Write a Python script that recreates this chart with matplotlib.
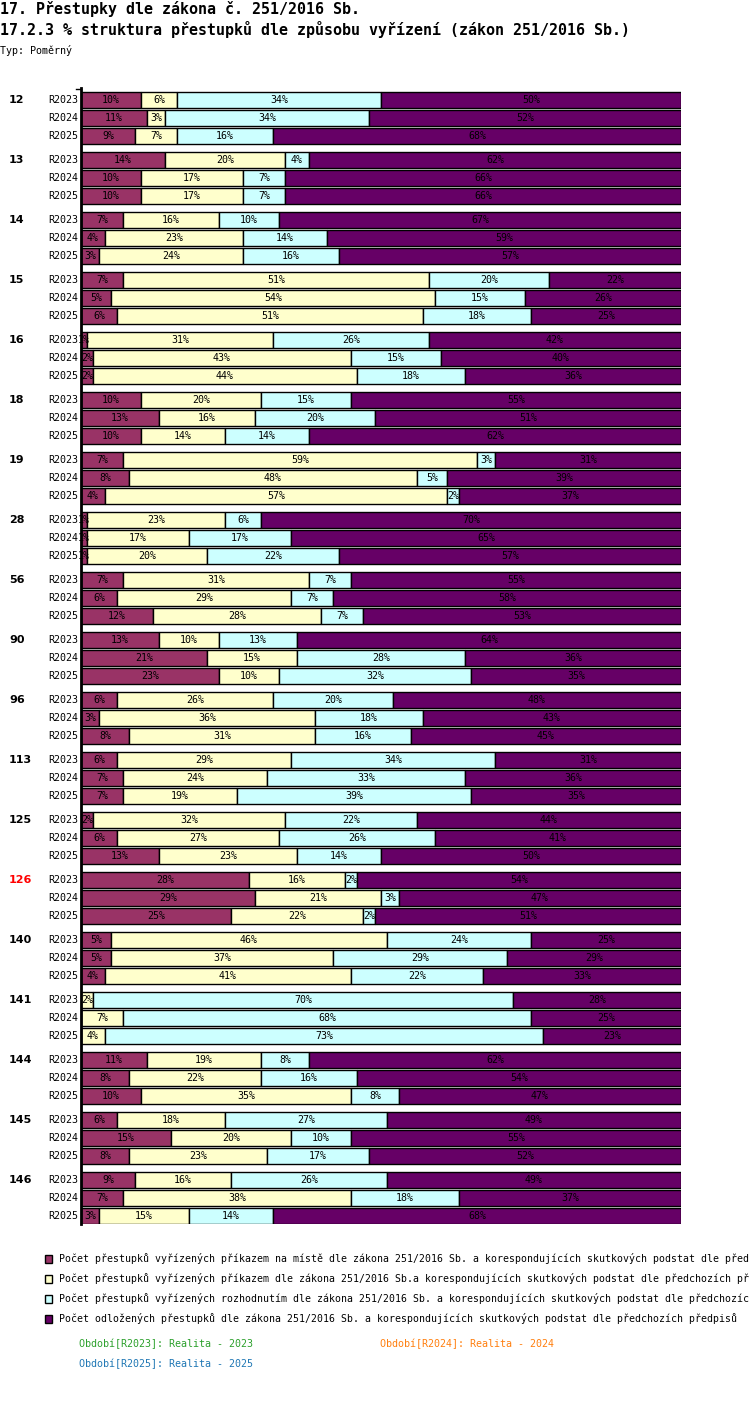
import matplotlib
matplotlib.use("Agg")
import matplotlib.pyplot as plt
from matplotlib.patches import Rectangle

plt.rcParams['font.family'] = ['DejaVu Sans Mono', 'DejaVu Sans']

# skupiny (řádky grafu) a období
skupiny = ['12', '13', '14', '15', '16', '18', '19', '28', '56', '90',
           '96', '113', '125', '126', '140', '141', '144', '145', '146']
obdobi = ['R2023', 'R2024', 'R2025']
zvyraznena = '126'

# hodnoty v % (po skupinách, R2023 / R2024 / R2025)
na_miste = [[10, 11, 9], [14, 10, 10], [7, 4, 3], [7, 5, 6], [1, 2, 2],
            [10, 13, 10], [7, 8, 4], [1, 1, 1], [7, 6, 12], [13, 21, 23],
            [6, 3, 8], [6, 7, 7], [2, 6, 13], [28, 29, 25], [5, 5, 4],
            [0, 0, 0], [11, 8, 10], [6, 15, 8], [9, 7, 3]]
prikazem = [[6, 3, 7], [20, 17, 17], [16, 23, 24], [51, 54, 51], [31, 43, 44],
            [20, 16, 14], [59, 48, 57], [23, 17, 20], [31, 29, 28], [10, 15, 10],
            [26, 36, 31], [29, 24, 19], [32, 27, 23], [16, 21, 22], [46, 37, 41],
            [2, 7, 4], [19, 22, 35], [18, 20, 23], [16, 38, 15]]
rozhodnutim = [[34, 34, 16], [4, 7, 7], [10, 14, 16], [20, 15, 18], [26, 15, 18],
               [15, 20, 14], [3, 5, 2], [6, 17, 22], [7, 7, 7], [13, 28, 32],
               [20, 18, 16], [34, 33, 39], [22, 26, 14], [2, 3, 2], [24, 29, 22],
               [70, 68, 73], [8, 16, 8], [27, 10, 17], [26, 18, 14]]
odlozene = [[50, 52, 68], [62, 66, 66], [67, 59, 57], [22, 26, 25], [42, 40, 36],
            [55, 51, 62], [31, 39, 37], [70, 65, 57], [55, 58, 53], [64, 36, 35],
            [48, 43, 45], [31, 36, 35], [44, 41, 50], [54, 47, 51], [25, 29, 33],
            [28, 25, 23], [62, 54, 47], [49, 55, 52], [49, 37, 68]]

serie = [na_miste, prikazem, rozhodnutim, odlozene]
barvy = ['#993366', '#ffffcc', '#ccffff', '#660066']
# texty legendy tak, jak jsou vidět (v originále useknuté okrajem)
legenda = [
    'Počet přestupků vyřízených příkazem na místě dle zákona 251/2016 Sb. a korespondujících skutkových podstat dle před',
    'Počet přestupků vyřízených příkazem dle zákona 251/2016 Sb.a korespondujících skutkových podstat dle předchozích př',
    'Počet přestupků vyřízených rozhodnutím dle zákona 251/2016 Sb. a korespondujících skutkových podstat dle předchozíc',
    'Počet odložených přestupků dle zákona 251/2016 Sb. a korespondujících skutkových podstat dle předchozích předpisů',
]
popisy_obdobi = ['Období[R2023]: Realita - 2023', 'Období[R2024]: Realita - 2024',
                 'Období[R2025]: Realita - 2025']
barvy_obdobi = ['#2ca02c', '#ff7f0e', '#1f77b4']

W, H = 750, 1402
fig = plt.figure(figsize=(W / 100, H / 100), dpi=100)

# osa: x 81..681 px, y 88..1224 px
ax = fig.add_axes([81 / W, 1 - 1224 / H, 600 / W, (1224 - 88) / H])
ax.set_xlim(0, 100)
ax.set_ylim(1124, -12)
ax.axis('off')
ax.plot([0, 0], [-12, 1124], color='black', lw=2, clip_on=False, zorder=5)
ax.plot([-0.8, 0], [-11, -11], color='black', lw=1, clip_on=False)

for g, skup in enumerate(skupiny):
    for r, obd in enumerate(obdobi):
        y = g * 60 + r * 18
        left = 0
        for s, data in enumerate(serie):
            v = data[g][r]
            if v > 0:
                rect = Rectangle((left, y - 8), v, 16, facecolor=barvy[s],
                                 edgecolor='black', lw=1, zorder=2)
                ax.add_patch(rect)
                t = ax.text(left + v / 2, y, f'{v}%', ha='center', va='center',
                            fontsize=7.2, color='black', zorder=3)
                t.set_clip_path(rect)
            left += v
        fig.text(78 / W, 1 - y / H - 100 / H, obd, ha='right', va='center', fontsize=7.2)
    fig.text(9 / W, 1 - (g * 60 + 100) / H, skup, ha='left', va='center',
             fontsize=8, fontweight='bold', family='DejaVu Sans',
             color='red' if skup == zvyraznena else 'black')

# nadpisy
fig.text(0, 1 - 9 / H, '17. Přestupky dle zákona č. 251/2016 Sb.', ha='left',
         va='center', fontsize=10.8, fontweight='bold')
fig.text(0, 1 - 30 / H, '17.2.3 % struktura přestupků dle způsobu vyřízení (zákon 251/2016 Sb.)',
         ha='left', va='center', fontsize=10.8, fontweight='bold')
fig.text(0, 1 - 50 / H, 'Typ: Poměrný', ha='left', va='center', fontsize=7.2)

# legenda
for i, (txt, c) in enumerate(zip(legenda, barvy)):
    yy = 1259 + i * 20
    fig.patches.append(Rectangle((45 / W, 1 - (yy + 4) / H), 7 / W, 8 / H,
                                 facecolor=c, edgecolor='black', lw=1,
                                 transform=fig.transFigure))
    fig.text(59 / W, 1 - yy / H, txt, ha='left', va='center', fontsize=7.1)

pozice = [(79, 1344), (380, 1344), (79, 1364)]
for (px, py), txt, c in zip(pozice, popisy_obdobi, barvy_obdobi):
    fig.text(px / W, 1 - py / H, txt, ha='left', va='center', fontsize=7.2, color=c)

fig.savefig('out.png', dpi=100)
